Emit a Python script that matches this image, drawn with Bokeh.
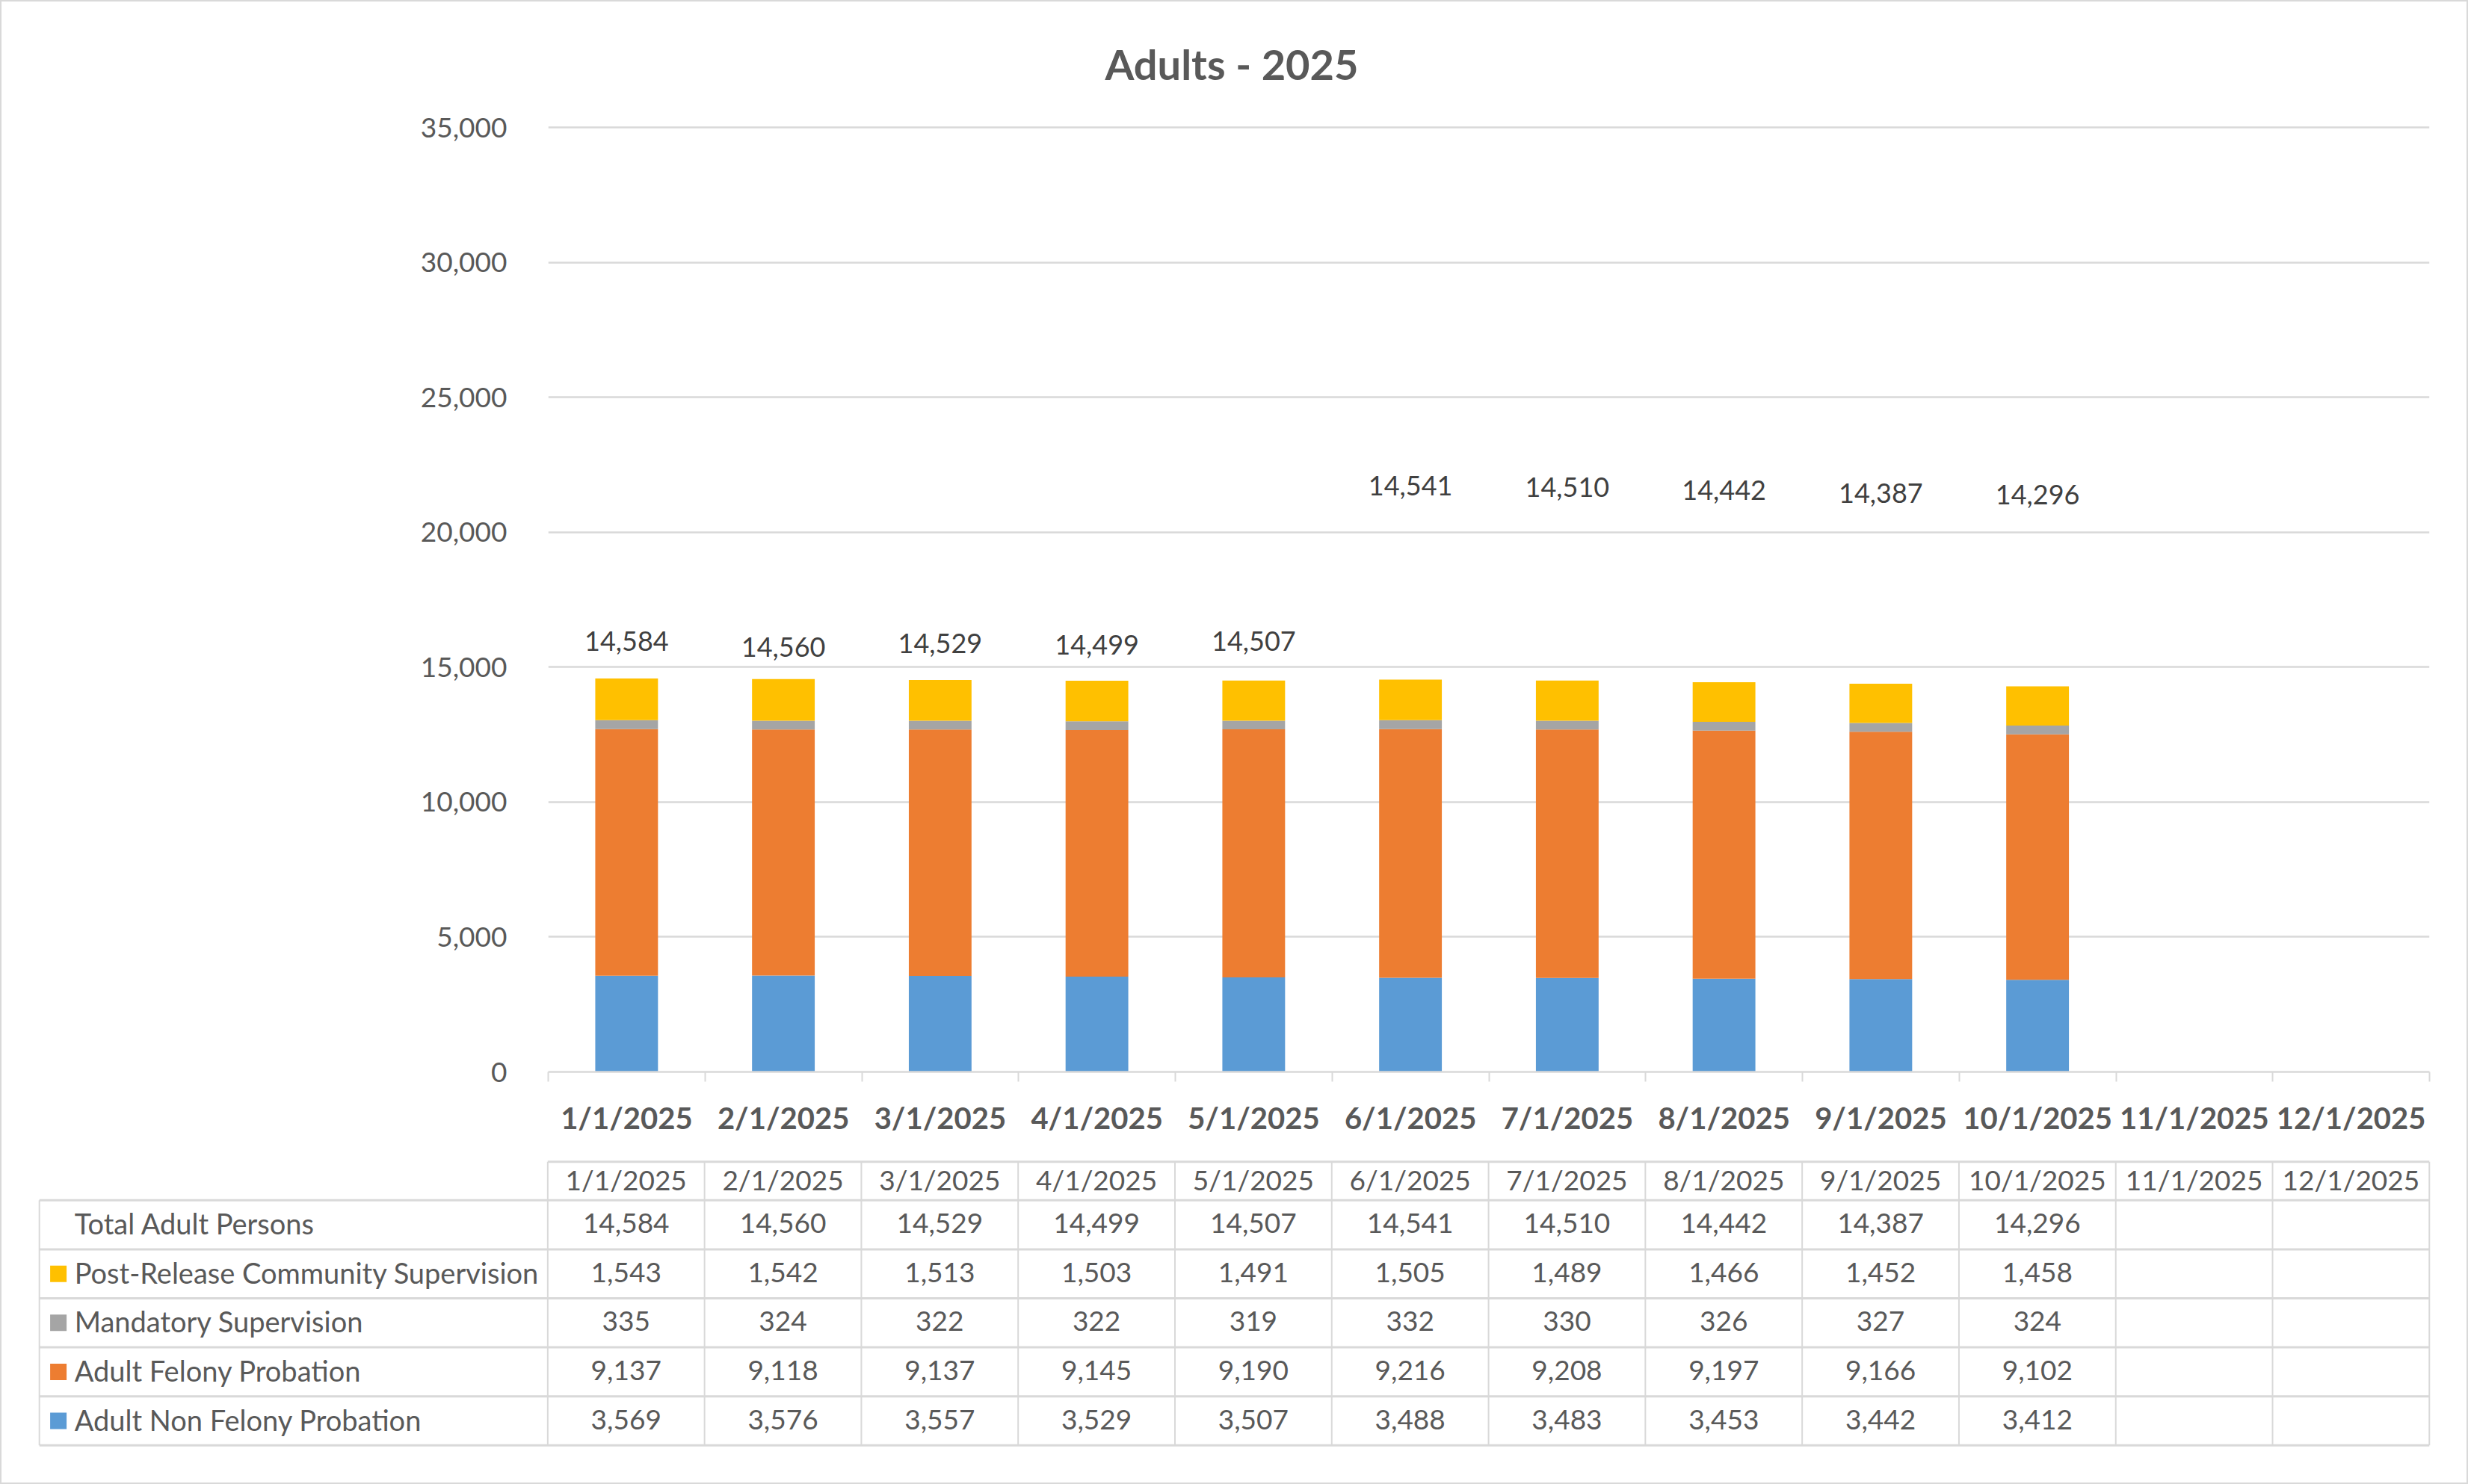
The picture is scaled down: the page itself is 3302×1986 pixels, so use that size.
from bokeh.plotting import figure
from bokeh.models import (Range1d, LinearAxis, FixedTicker,
                          NumeralTickFormatter, ColumnDataSource, Title, Column)
from bokeh.embed import file_html
from bokeh.resources import INLINE
from bokeh.core.properties import value

# ---------------- data ----------------
months = ["1/1/2025", "2/1/2025", "3/1/2025", "4/1/2025", "5/1/2025", "6/1/2025",
          "7/1/2025", "8/1/2025", "9/1/2025", "10/1/2025", "11/1/2025", "12/1/2025"]
series_names = ["Adult Non Felony Probation", "Adult Felony Probation",
                "Mandatory Supervision", "Post-Release Community Supervision"]
non_felony = [3569, 3576, 3557, 3529, 3507, 3488, 3483, 3453, 3442, 3412]
felony = [9137, 9118, 9137, 9145, 9190, 9216, 9208, 9197, 9166, 9102]
mandatory = [335, 324, 322, 322, 319, 332, 330, 326, 327, 324]
post_release = [1543, 1542, 1513, 1503, 1491, 1505, 1489, 1466, 1452, 1458]
totals = [14584, 14560, 14529, 14499, 14507, 14541, 14510, 14442, 14387, 14296]
total_name = "Total Adult Persons"
y_ticks = [0, 5000, 10000, 15000, 20000, 25000, 30000, 35000]

# ---------------- styles ----------------
colors = ["#5B9BD5", "#ED7D31", "#A5A5A5", "#FFC000"]
FONT = "Lato"
TXT = "#595959"
LBL = "#404040"
GRID = "#D9D9D9"
label_lift_px = [50, 43, 49, 48, 53, 260, 259, 257, 255, 256]  # Excel label placement above bar tops
BORDER = "2px solid #D9D9D9"

FIG_W = 3298
NC = len(months)
centers = [i + 0.5 for i in range(NC)]

# ---------------- chart ----------------
p = figure(x_range=Range1d(0, NC), y_range=Range1d(0, 35150),
           width=FIG_W, height=1548, output_backend="svg", toolbar_location=None,
           x_axis_location=None, min_border_left=731, min_border_right=50,
           min_border_top=163, min_border_bottom=116)
p.outline_line_color = None
p.background_fill_color = "white"
p.border_fill_color = "white"

n = len(totals)
src = ColumnDataSource(dict(x=centers[:n], nonfel=non_felony, fel=felony,
                            mand=mandatory, prcs=post_release))
p.vbar_stack(["nonfel", "fel", "mand", "prcs"], x="x", width=0.4, color=colors,
             line_color=None, source=src)

p.text(x=centers[:n], y=totals, text=[f"{v:,}" for v in totals],
       y_offset=[-d for d in label_lift_px], text_align="center", text_baseline="middle",
       text_font=value(FONT), text_font_size="36px", text_color=LBL)

# y axis
yax = p.yaxis[0]
yax.ticker = FixedTicker(ticks=y_ticks)
yax.formatter = NumeralTickFormatter(format="0,0")
yax.axis_line_color = None
yax.major_tick_line_color = None
yax.minor_tick_line_color = None
yax.major_label_standoff = 49
yax.major_label_text_font = FONT
yax.major_label_text_font_size = "37px"
yax.major_label_text_color = TXT
p.ygrid.ticker = FixedTicker(ticks=y_ticks)
p.ygrid.grid_line_color = GRID
p.ygrid.grid_line_width = 2.5
p.xgrid.grid_line_color = None

# x axis: boundary ticks + category labels
tick_axis = LinearAxis(ticker=FixedTicker(ticks=list(range(NC + 1))),
                       major_label_text_alpha=0, major_label_text_font_size="1px",
                       major_label_standoff=0,
                       axis_line_color=GRID, axis_line_width=2.5,
                       major_tick_line_color=GRID, major_tick_line_width=2,
                       major_tick_out=13, major_tick_in=0, minor_tick_line_color=None)
p.add_layout(tick_axis, "below")
cat_axis = LinearAxis(ticker=FixedTicker(ticks=centers),
                      major_label_overrides={c: m for c, m in zip(centers, months)},
                      axis_line_color=None, major_tick_line_color=None,
                      minor_tick_line_color=None, major_label_standoff=18,
                      major_label_text_font=FONT, major_label_text_font_style="bold",
                      major_label_text_font_size="40px", major_label_text_color=TXT)
p.add_layout(cat_axis, "below")

p.title = Title(text="Adults - 2025", align="left", offset=745, standoff=93,
                text_font=FONT, text_font_size="56px", text_font_style="bold",
                text_color=TXT)

# ---------------- data table ----------------
ROW_PX = 65.6
HDR = 51.6 / ROW_PX
L = 3.242
PAD_X = 0.02
PAD_Y = 0.064
UNIT_PX = 209.75

t = figure(x_range=Range1d(-L - PAD_X, NC + PAD_X), y_range=Range1d(-PAD_Y, 5 + HDR + PAD_Y),
           width=FIG_W, height=434, output_backend="svg", toolbar_location=None,
           x_axis_location=None, y_axis_location=None,
           min_border_left=46, min_border_right=46, min_border_top=0, min_border_bottom=46)
t.outline_line_color = None
t.xgrid.grid_line_color = None
t.ygrid.grid_line_color = None
t.background_fill_color = "white"
t.border_fill_color = "white"

row_names = [total_name] + series_names[::-1]
row_values = [totals, post_release, mandatory, felony, non_felony]
row_colors = [None] + colors[::-1]
nrows = len(row_names)

# grid lines
hx0, hx1, hy = [0], [NC], [nrows + HDR]
for r in range(nrows + 1):
    hx0.append(-L); hx1.append(NC); hy.append(r)
t.segment(x0=hx0, x1=hx1, y0=hy, y1=hy, line_color=GRID, line_width=3)
vx = [-L] + list(range(NC + 1))
vy1 = [nrows] + [nrows + HDR] * (NC + 1)
t.segment(x0=vx, x1=vx, y0=[0] * len(vx), y1=vy1, line_color=GRID, line_width=2)

# header
t.text(x=centers, y=[nrows + HDR / 2] * NC, text=months, y_offset=-2,
       text_align="center", text_baseline="middle", text_font=value(FONT),
       text_font_size="37px", text_color=TXT)

# rows
for r, (name, vals, col) in enumerate(zip(row_names, row_values, row_colors)):
    yc = nrows - r - 0.5
    t.text(x=[-L], y=[yc], text=[name], x_offset=47, y_offset=-2, text_align="left",
           text_baseline="middle", text_font=value(FONT), text_font_size="38px", text_color=TXT)
    if col is not None:
        t.rect(x=[-L + 25.4 / UNIT_PX], y=[yc], width=22, height=22, width_units="screen",
               height_units="screen", fill_color=col, line_color=None)
    t.text(x=centers[:len(vals)], y=[yc] * len(vals), y_offset=-2,
           text=[f"{v:,}" for v in vals], text_align="center", text_baseline="middle",
           text_font=value(FONT), text_font_size="37px", text_color=TXT)

top = Column(children=[p], styles={"border-top": BORDER, "border-left": BORDER, "border-right": BORDER})
bottom = Column(children=[t], styles={"border-bottom": BORDER, "border-left": BORDER, "border-right": BORDER})

open("out.html", "w").write(file_html([top, bottom], INLINE))
